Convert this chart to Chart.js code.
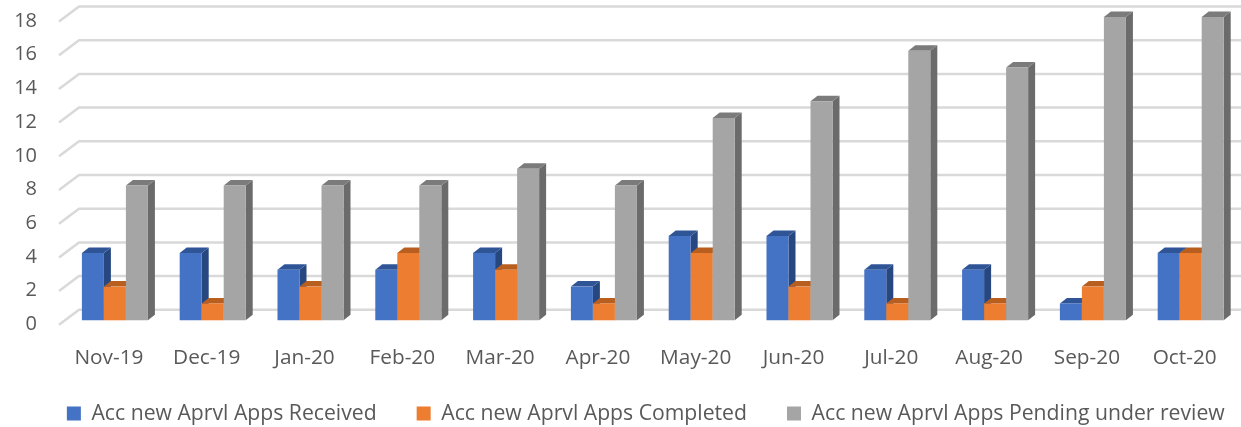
<!DOCTYPE html>
<html>
<head>
<meta charset="utf-8">
<title>Acc new Aprvl Apps</title>
<script src="https://cdn.jsdelivr.net/npm/chart.js@4"></script>
<style>
    body { margin: 0; background: #fff; }
    canvas { display: block; }
</style>
</head>
<body>
<canvas id="chart" width="1241" height="427"></canvas>
<script>
const months = ['Nov-19', 'Dec-19', 'Jan-20', 'Feb-20', 'Mar-20', 'Apr-20', 'May-20', 'Jun-20', 'Jul-20', 'Aug-20', 'Sep-20', 'Oct-20'];
const received = [4, 4, 3, 3, 4, 2, 5, 5, 3, 3, 1, 4];
const completed = [2, 1, 2, 4, 3, 1, 4, 2, 1, 1, 2, 4];
const pending = [8, 8, 8, 8, 9, 8, 12, 13, 16, 15, 18, 18];

const textColor = '#595959';
const fontFamily = '"Open Sans", sans-serif';

// Top and side shades for the fake 3D look, same order as the datasets
const topColors = ['#2F5597', '#B85F1F', '#7B7B7B'];
const sideColors = ['#264780', '#A5561C', '#6B6B6B'];
const depthX = 7;
const depthY = 5.5;

// Back wall grid lines, with the short diagonal on the left
const wallGrid = {
    id: 'wallGrid',
    afterLayout(chart) {
        // Legend padding is also its vertical padding, so move it down after layout
        chart.legend.top = 363;
        chart.legend.left += 26;
        chart.legend.right += 26;
        // Tick labels get clipped to the scale box
        chart.scales.x.bottom = 385;
    },
    beforeDatasetsDraw(chart) {
        const { ctx, scales: { y } } = chart;
        ctx.save();
        ctx.strokeStyle = '#D9D9D9';
        ctx.lineWidth = 2.5;
        y.ticks.forEach(tick => {
            const py = y.getPixelForValue(tick.value);
            ctx.beginPath();
            ctx.moveTo(59, py + 4.5);
            ctx.lineTo(79, py - 10.5);
            ctx.lineTo(chart.width, py - 10.5);
            ctx.stroke();
        });
        ctx.restore();
    }
};

// Draws the bars left to right so the next bar covers the side of the previous one
const bars3d = {
    id: 'bars3d',
    beforeDatasetsDraw(chart) {
        const { ctx } = chart;
        chart.data.datasets.forEach((dataset, i) => {
            chart.getDatasetMeta(i).data.forEach(bar => {
                const left = bar.x - bar.width / 2;
                const right = bar.x + bar.width / 2;

                ctx.fillStyle = sideColors[i];
                ctx.beginPath();
                ctx.moveTo(right, bar.y);
                ctx.lineTo(right + depthX, bar.y - depthY);
                ctx.lineTo(right + depthX, bar.base - depthY);
                ctx.lineTo(right, bar.base);
                ctx.closePath();
                ctx.fill();

                ctx.fillStyle = topColors[i];
                ctx.beginPath();
                ctx.moveTo(left, bar.y);
                ctx.lineTo(left + depthX, bar.y - depthY);
                ctx.lineTo(right + depthX, bar.y - depthY);
                ctx.lineTo(right, bar.y);
                ctx.closePath();
                ctx.fill();

                bar.draw(ctx);
            });
        });
        return false;
    }
};

new Chart(document.getElementById('chart'), {
    type: 'bar',
    data: {
        labels: months,
        datasets: [
            { label: 'Acc new Aprvl Apps Received', data: received, backgroundColor: '#4472C4' },
            { label: 'Acc new Aprvl Apps Completed', data: completed, backgroundColor: '#ED7D31' },
            { label: 'Acc new Aprvl Apps Pending under review', data: pending, backgroundColor: '#A5A5A5' }
        ]
    },
    plugins: [wallGrid, bars3d],
    options: {
        responsive: false,
        animation: false,
        categoryPercentage: 0.675,
        barPercentage: 1,
        layout: { padding: { top: 17, right: 1.4, bottom: 0, left: 0 } },
        plugins: {
            tooltip: { enabled: false },
            legend: {
                position: 'bottom',
                labels: {
                    boxWidth: 14,
                    boxHeight: 14,
                    padding: 40,
                    color: textColor,
                    font: { family: fontFamily, size: 21.2 }
                }
            }
        },
        scales: {
            x: {
                // tickLength instead of padding, padding would shrink the plot on the right
                grid: { display: false, drawTicks: true, tickLength: 25 },
                border: { display: false },
                afterFit(scale) { scale.height = 35.5; },
                ticks: {
                    padding: 0,
                    labelOffset: -6,
                    maxRotation: 0,
                    color: textColor,
                    font: { family: fontFamily, size: 20.8 }
                }
            },
            y: {
                min: 0,
                max: 18,
                // same trick here, no extra top and bottom margin
                grid: { display: false, drawTicks: true, tickLength: 29 },
                border: { display: false },
                afterFit(scale) { scale.width = 66; },
                ticks: {
                    stepSize: 2,
                    autoSkip: false,
                    padding: 0,
                    labelOffset: 4,
                    color: textColor,
                    font: { family: fontFamily, size: 20 }
                }
            }
        }
    }
});
</script>
</body>
</html>
